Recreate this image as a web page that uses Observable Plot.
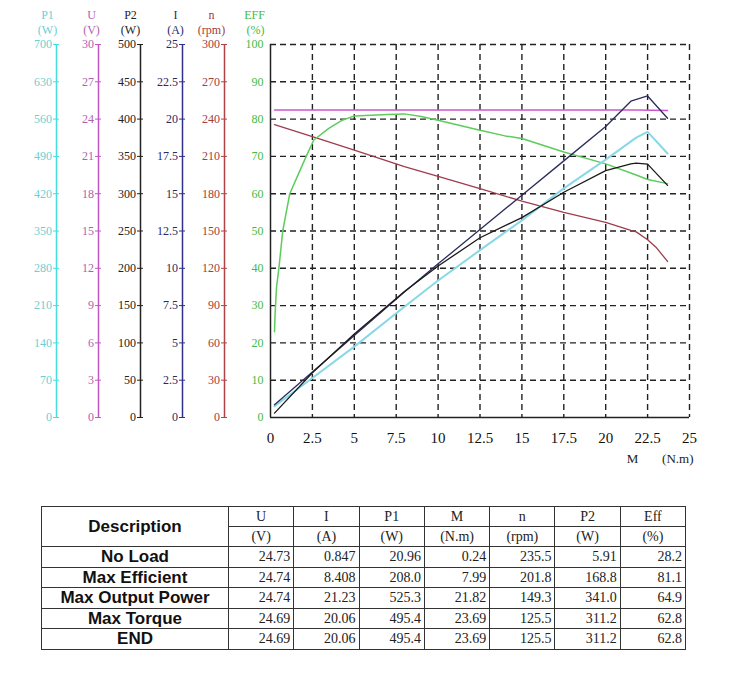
<!DOCTYPE html>
<html>
<head>
<meta charset="utf-8">
<script src="https://cdn.jsdelivr.net/npm/d3@7"></script>
<script src="https://cdn.jsdelivr.net/npm/@observablehq/plot@0.6"></script>
<style>
  body { margin: 0; background: #fff; }
  #chart svg { display: block; }
  #tbl { border-collapse: collapse; margin-left: 41px; margin-top: 34px; table-layout: fixed;
         font-family: "Liberation Serif", "Times New Roman", serif; font-size: 14px; color: #222; }
  #tbl td, #tbl th { border: 1.5px solid #333; padding: 0 3px; height: 19px; line-height: 19px; }
  #tbl td { height: 19.6px; line-height: 19.6px; }
  #tbl th { font-weight: normal; text-align: center; }
  #tbl th.desc, #tbl td.lab { font-family: "Liberation Sans", Arial, sans-serif; font-weight: bold; font-size: 17px; text-align: center; color: #111; }
  #tbl td.num { text-align: right; }
</style>
</head>
<body>
<div id="chart"></div>
<table id="tbl"></table>
<script>
// ---------- curve data (torque M in N.m) ----------
const effM   = [0.24, 0.27, 0.36, 0.5, 0.73, 1.15, 1.59, 2.13, 2.58, 3.48, 4.28, 4.97, 6, 7, 7.99, 9, 10, 11, 12.5, 14, 15, 17.5, 20, 21.82, 22.5, 23.69];
const effVal = [23, 27.4, 35, 40, 50, 60, 64.5, 70, 74.4, 77.5, 79.7, 80.8, 81, 81.2, 81.4, 80.7, 79.7, 78.6, 77, 75.5, 74.8, 71.2, 68, 65, 63.8, 62.7];

const speedM   = [0.24, 2.5, 5, 7.99, 10, 12.5, 15, 17.5, 20, 21.5, 21.82, 22.5, 23.0, 23.69];
const speedVal = [235.5, 226, 215, 201.8, 194, 184, 174, 165, 157, 150.5, 149.3, 143, 137, 125.5];

const p1M   = [0.24, 2.5, 5, 7.99, 10, 12.5, 15, 17.5, 20, 21.82, 22.5, 23.69];
const p1Val = [21, 74, 133, 208, 257, 314, 370, 430, 484, 525.3, 536, 495.4];

const curM   = [0.24, 2.5, 5, 7.99, 10, 12.5, 15, 17.5, 20, 21.5, 22.5, 23.69];
const curVal = [0.85, 3.05, 5.5, 8.408, 10.3, 12.6, 14.9, 17.2, 19.5, 21.2, 21.55, 20.06];

const p2M   = [0.24, 2.5, 5, 7.99, 10, 12.5, 15, 17.5, 20, 21.5, 21.82, 22.5, 23.69];
const p2Val = [5.91, 60, 112, 168.8, 203, 241, 268, 302, 331, 340, 341, 339.6, 311.2];

const voltM   = [0.24, 7.99, 21.82, 23.69];
const voltVal = [24.73, 24.74, 24.74, 24.69];

// ---------- axis tick labels ----------
const xTicks   = [0, 2.5, 5, 7.5, 10, 12.5, 15, 17.5, 20, 22.5, 25];
const effTicks = [0, 10, 20, 30, 40, 50, 60, 70, 80, 90, 100];
const p1Ticks  = [0, 70, 140, 210, 280, 350, 420, 490, 560, 630, 700];
const uTicks   = [0, 3, 6, 9, 12, 15, 18, 21, 24, 27, 30];
const p2Ticks  = [0, 50, 100, 150, 200, 250, 300, 350, 400, 450, 500];
const iTicks   = [0, 2.5, 5, 7.5, 10, 12.5, 15, 17.5, 20, 22.5, 25];
const nTicks   = [0, 30, 60, 90, 120, 150, 180, 210, 240, 270, 300];

// ---------- table ----------
const tableCols  = ["U", "I", "P1", "M", "n", "P2", "Eff"];
const tableUnits = ["(V)", "(A)", "(W)", "(N.m)", "(rpm)", "(W)", "(%)"];
const tableRows  = ["No Load", "Max Efficient", "Max Output Power", "Max Torque", "END"];
const tableVals  = [
  ["24.73", "0.847", "20.96", "0.24", "235.5", "5.91", "28.2"],
  ["24.74", "8.408", "208.0", "7.99", "201.8", "168.8", "81.1"],
  ["24.74", "21.23", "525.3", "21.82", "149.3", "341.0", "64.9"],
  ["24.69", "20.06", "495.4", "23.69", "125.5", "311.2", "62.8"],
  ["24.69", "20.06", "495.4", "23.69", "125.5", "311.2", "62.8"]
];

// ---------- chart ----------
const ML = 270;
const axes = [
  {name: "P1", unit: "(W)",   ticks: p1Ticks, max: 700, pos: 56,  line: "#44dede", text: "#6ccfd2", head: 47},
  {name: "U",  unit: "(V)",   ticks: uTicks,  max: 30,  pos: 98,  line: "#c455c4", text: "#b25fb2", head: 91},
  {name: "P2", unit: "(W)",   ticks: p2Ticks, max: 500, pos: 140, line: "#222222", text: "#222222", head: 130},
  {name: "I",  unit: "(A)",   ticks: iTicks,  max: 25,  pos: 182, line: "#30308a", text: "#2a2a66", head: 175},
  {name: "n",  unit: "(rpm)", ticks: nTicks,  max: 300, pos: 224, line: "#b04444", text: "#a04040", head: 211}
];
const green = "#44bb44";

const series = [
  {M: voltM,  V: voltVal,  max: 30,  stroke: "#cc55cc", w: 1.5},
  {M: speedM, V: speedVal, max: 300, stroke: "#9e3c4c", w: 1.3},
  {M: effM,   V: effVal,   max: 100, stroke: "#5ccc5c", w: 1.5},
  {M: p1M,    V: p1Val,    max: 700, stroke: "#88d8e6", w: 2},
  {M: curM,   V: curVal,   max: 25,  stroke: "#2c2c5c", w: 1.3},
  {M: p2M,    V: p2Val,    max: 500, stroke: "#1a1a1a", w: 1.3}
];

const marks = [];
// grid
marks.push(Plot.gridX(xTicks.slice(1), {stroke: "#222", strokeOpacity: 1, strokeWidth: 1.4, strokeDasharray: "6,4"}));
marks.push(Plot.gridY(effTicks.slice(1), {stroke: "#222", strokeOpacity: 1, strokeWidth: 1.4, strokeDasharray: "6,4"}));
// frame left & bottom
marks.push(Plot.ruleX([0], {stroke: "#222", strokeWidth: 1.5}));
marks.push(Plot.ruleY([0], {stroke: "#222", strokeWidth: 1.5}));
// x axis
marks.push(Plot.axisX({ticks: xTicks, tickSize: 0, tickPadding: 15, fontSize: 15, tickFormat: d => String(d), label: null, fill: "#111"}));
marks.push(Plot.text(["M"], {frameAnchor: "bottom-right", dx: -57, dy: 45, fontSize: 13, fill: "#222", textAnchor: "middle"}));
marks.push(Plot.text(["(N.m)"], {frameAnchor: "bottom-right", dx: 4, dy: 45, fontSize: 13, fill: "#222", textAnchor: "end"}));
// EFF axis
marks.push(Plot.axisY({ticks: effTicks, tickSize: 0, tickPadding: 7, fontSize: 12, color: green, label: null}));
marks.push(Plot.text(["EFF"], {frameAnchor: "top-left", dx: 254 - ML, dy: -34, fontSize: 12, fill: green, textAnchor: "middle"}));
marks.push(Plot.text(["(%)"], {frameAnchor: "top-left", dx: 255 - ML, dy: -19, fontSize: 12, fill: green, textAnchor: "middle"}));
// extra left axes
for (const a of axes) {
  marks.push(Plot.ruleX([0], {y1: 0, y2: 100, dx: a.pos - ML, stroke: a.line, strokeWidth: 1.5}));
  marks.push(Plot.axisY({
    ticks: a.ticks.map(v => v / a.max * 100),
    tickFormat: (d, i) => String(a.ticks[i]),
    anchor: "left", dx: a.pos + 3 - ML, tickSize: 6, tickPadding: 1.5,
    stroke: a.line, fill: a.text, fontSize: 12, label: null
  }));
  marks.push(Plot.text([a.name], {frameAnchor: "top-left", dx: a.head - ML, dy: -34, fontSize: 12, fill: a.text, textAnchor: "middle"}));
  marks.push(Plot.text([a.unit], {frameAnchor: "top-left", dx: a.head - ML, dy: -19, fontSize: 12, fill: a.text, textAnchor: "middle"}));
}
// curves
for (const s of series) {
  const data = s.M.map((m, i) => ({M: m, v: s.V[i]}));
  marks.push(Plot.line(data, {x: "M", y: d => d.v / s.max * 100, stroke: s.stroke, strokeWidth: s.w}));
}

const chart = Plot.plot({
  width: 730, height: 472,
  marginLeft: ML, marginRight: 41, marginTop: 44, marginBottom: 55,
  style: {fontFamily: "'Liberation Serif', 'Times New Roman', serif", background: "#fff", overflow: "visible"},
  x: {domain: [0, 25]},
  y: {domain: [0, 100]},
  marks
});
document.getElementById("chart").appendChild(chart);

// table
const tbl = document.getElementById("tbl");
let html = "<colgroup><col style='width:187px'>" + tableCols.map(() => "<col style='width:65.3px'>").join("") + "</colgroup>";
html += "<tr><th class='desc' rowspan='2'>Description</th>" + tableCols.map(c => `<th>${c}</th>`).join("") + "</tr>";
html += "<tr>" + tableUnits.map(u => `<th>${u}</th>`).join("") + "</tr>";
tableRows.forEach((r, i) => {
  html += `<tr><td class='lab'>${r}</td>` + tableVals[i].map(v => `<td class='num'>${v}</td>`).join("") + "</tr>";
});
tbl.innerHTML = html;
</script>
</body>
</html>
